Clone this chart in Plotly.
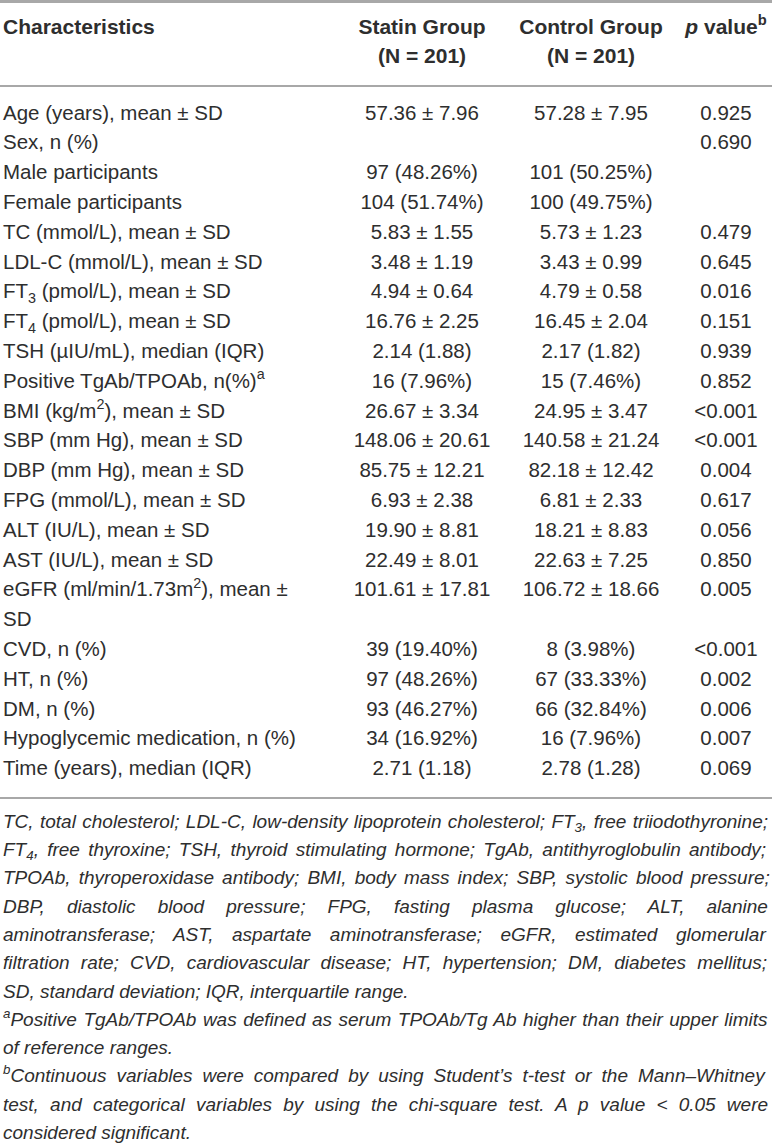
import plotly.graph_objects as go

# table content
labels = [
    "Age (years), mean ± SD", "Sex, n (%)", "Male participants", "Female participants",
    "TC (mmol/L), mean ± SD", "LDL-C (mmol/L), mean ± SD",
    "FT<sub>3</sub> (pmol/L), mean ± SD", "FT<sub>4</sub> (pmol/L), mean ± SD",
    "TSH (µIU/mL), median (IQR)", "Positive TgAb/TPOAb, n(%)<sup>a</sup>",
    "BMI (kg/m<sup>2</sup>), mean ± SD", "SBP (mm Hg), mean ± SD", "DBP (mm Hg), mean ± SD",
    "FPG (mmol/L), mean ± SD", "ALT (IU/L), mean ± SD", "AST (IU/L), mean ± SD",
    "eGFR (ml/min/1.73m<sup>2</sup>), mean ±", "SD",
    "CVD, n (%)", "HT, n (%)", "DM, n (%)", "Hypoglycemic medication, n (%)",
    "Time (years), median (IQR)",
]
statin = [
    "57.36 ± 7.96", "", "97 (48.26%)", "104 (51.74%)", "5.83 ± 1.55", "3.48 ± 1.19",
    "4.94 ± 0.64", "16.76 ± 2.25", "2.14 (1.88)", "16 (7.96%)", "26.67 ± 3.34",
    "148.06 ± 20.61", "85.75 ± 12.21", "6.93 ± 2.38", "19.90 ± 8.81", "22.49 ± 8.01",
    "101.61 ± 17.81", "", "39 (19.40%)", "97 (48.26%)", "93 (46.27%)", "34 (16.92%)",
    "2.71 (1.18)",
]
control = [
    "57.28 ± 7.95", "", "101 (50.25%)", "100 (49.75%)", "5.73 ± 1.23", "3.43 ± 0.99",
    "4.79 ± 0.58", "16.45 ± 2.04", "2.17 (1.82)", "15 (7.46%)", "24.95 ± 3.47",
    "140.58 ± 21.24", "82.18 ± 12.42", "6.81 ± 2.33", "18.21 ± 8.83", "22.63 ± 7.25",
    "106.72 ± 18.66", "", "8 (3.98%)", "67 (33.33%)", "66 (32.84%)", "16 (7.96%)",
    "2.78 (1.28)",
]
pvalues = [
    "0.925", "0.690", "", "", "0.479", "0.645", "0.016", "0.151", "0.939", "0.852",
    "<0.001", "<0.001", "0.004", "0.617", "0.056", "0.850", "0.005", "", "<0.001",
    "0.002", "0.006", "0.007", "0.069",
]
headers = ["Characteristics", "Statin Group", "Control Group", "<i>p</i> value<sup>b</sup>"]
subheaders = ["", "(N = 201)", "(N = 201)", ""]
footnotes = [
    "TC, total cholesterol; LDL-C, low-density lipoprotein cholesterol; FT<sub>3</sub>, free triiodothyronine;",
    "FT<sub>4</sub>, free thyroxine; TSH, thyroid stimulating hormone; TgAb, antithyroglobulin antibody;",
    "TPOAb, thyroperoxidase antibody; BMI, body mass index; SBP, systolic blood pressure;",
    "DBP, diastolic blood pressure; FPG, fasting plasma glucose; ALT, alanine",
    "aminotransferase; AST, aspartate aminotransferase; eGFR, estimated glomerular",
    "filtration rate; CVD, cardiovascular disease; HT, hypertension; DM, diabetes mellitus;",
    "SD, standard deviation; IQR, interquartile range.",
    "<sup>a</sup>Positive TgAb/TPOAb was defined as serum TPOAb/Tg Ab higher than their upper limits",
    "of reference ranges.",
    "<sup>b</sup>Continuous variables were compared by using Student’s t-test or the Mann–Whitney",
    "test, and categorical variables by using the chi-square test. A p value < 0.05 were",
    "considered significant.",
]
# extra word spacing (px) to justify the footnote lines
foot_wordspace = [1.1, 3.0, 2.9, 16.8, 13.3, 6.0, 0, 1.2, 0, 4.7, 5.9, 0]

W, H = 772, 1145
FONT = "Liberation Sans"
INK = "#2e2e2e"
RULE = "#a8a8a8"
col_x = [3, 422, 591, 726]
row_y0, row_dy = 114.5, 29.8
foot_y0, foot_dy = 823, 28.3

rows_y = [row_y0 + i * row_dy for i in range(len(labels))]
foot_y = [foot_y0 + i * foot_dy for i in range(len(footnotes))]

fig = go.Figure()


def add_text(x, y, text, pos, size=20.5, bold=False, italic=False):
    keep = [i for i, t in enumerate(text) if t]
    fig.add_trace(go.Scatter(
        x=[x[i] for i in keep], y=[y[i] for i in keep], text=[text[i] for i in keep],
        mode="text", textposition=pos, hoverinfo="skip",
        textfont=dict(family=FONT, size=size, color=INK,
                      weight="bold" if bold else "normal",
                      style="italic" if italic else "normal"),
        showlegend=False,
    ))


# header
add_text([col_x[0]], [29], [headers[0]], "middle right", size=21, bold=True)
add_text(col_x[1:], [29, 29, 29], headers[1:], "middle center", size=21, bold=True)
add_text(col_x[1:], [58, 58, 58], subheaders[1:], "middle center", size=21, bold=True)

# body
n = len(labels)
add_text([col_x[0]] * n, rows_y, labels, "middle right")
add_text([col_x[1]] * n, rows_y, statin, "middle center")
add_text([col_x[2]] * n, rows_y, control, "middle center")
add_text([col_x[3]] * n, rows_y, pvalues, "middle center")

# footnotes, justified with word-spacing
foot_text = ['<span style="word-spacing:%.1fpx">%s</span>' % (ws, t)
             for t, ws in zip(footnotes, foot_wordspace)]
add_text([col_x[0]] * len(footnotes), foot_y, foot_text, "middle right", size=19, italic=True)

for y, w in [(1.5, 3), (86, 2), (798, 2)]:
    fig.add_shape(type="line", x0=0, x1=W, y0=y, y1=y, xref="x", yref="y",
                  line=dict(color=RULE, width=w))

fig.update_xaxes(range=[0, W], visible=False, fixedrange=True)
fig.update_yaxes(range=[H, 0], visible=False, fixedrange=True)
fig.update_layout(width=W, height=H, margin=dict(l=0, r=0, t=0, b=0),
                  plot_bgcolor="white", paper_bgcolor="white")

fig.write_html("out.html", config={"displayModeBar": False},
               post_script="document.body.style.margin = '0px';")
